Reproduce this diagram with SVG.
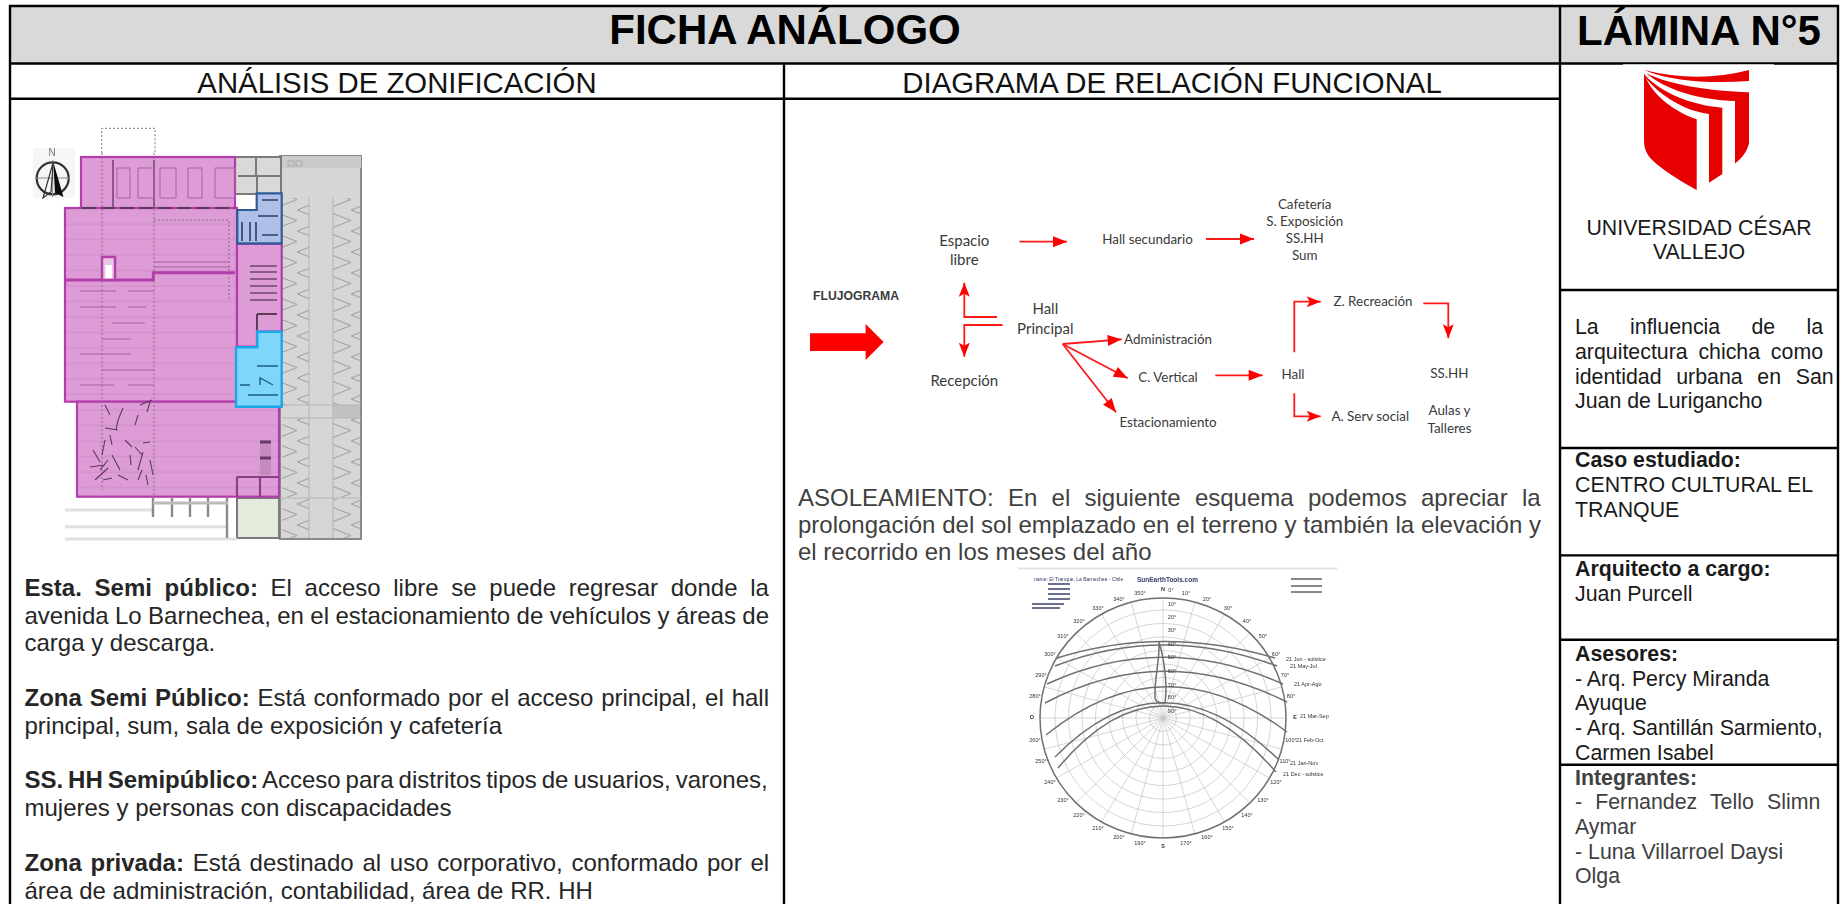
<svg xmlns="http://www.w3.org/2000/svg" width="1840" height="904" viewBox="0 0 1840 904">
<style>
text{font-family:"Liberation Sans",Arial,sans-serif}
.b{font-weight:700}
.body{font-size:24px;fill:#262626}
.gray{font-size:24px;fill:#404040}
.side{font-size:21.33px;fill:#1a1a1a}
.sideg{font-size:21.33px;fill:#404040}
.head{font-size:29.33px;fill:#111;text-anchor:middle}
.rule{stroke:#000;stroke-width:2.4;fill:none}
.fl{font-family:Lato,"Noto Sans",sans-serif;font-size:13.4px;fill:#3a3a3a;text-anchor:middle}
.fb{font-family:Lato,"Noto Sans",sans-serif;font-size:15px;fill:#3a3a3a;text-anchor:middle}
.ar{fill:none;stroke:#ff1a1a;stroke-width:1.8}
.ah{marker-end:url(#head)}
.at{marker-end:url(#thin)}
.z{fill:#dd9cd6;stroke:#b23cab;stroke-width:2.2}
.w{fill:none;stroke:#7a7a7a;stroke-width:2}
.d{fill:none;stroke:#8a6a88;stroke-width:1;stroke-dasharray:2 2}
.t{fill:none;stroke:#a85fa2;stroke-width:1}
.k{fill:none;stroke:#5a3a58;stroke-width:1.1}
.g{fill:none;stroke:#c4c4c4;stroke-width:.7}
.c{fill:none;stroke:#707070;stroke-width:1.5}
.m{font-size:5.5px;fill:#333;text-anchor:middle}
.n{font-size:5.5px;fill:#333}
</style>
<defs>
<marker id="head" markerUnits="userSpaceOnUse" markerWidth="16" markerHeight="12" refX="15" refY="6" orient="auto"><path d="M1,.5L15,6L1,11.5Z" fill="#f00"/></marker>
<marker id="thin" markerUnits="userSpaceOnUse" markerWidth="16" markerHeight="12" refX="15" refY="6" orient="auto"><path d="M1,.5L15,6L1,11.5L4,6Z" fill="#f00"/></marker>
<pattern id="zig" width="27" height="21" patternUnits="userSpaceOnUse"><path d="M0,0L27,10.5L0,21" fill="none" stroke="#a0a0a0" stroke-width="1.1"/></pattern>
<pattern id="stripe" width="10" height="15.5" patternUnits="userSpaceOnUse"><path d="M0,7H10" stroke="#cf8ac8" stroke-width="1"/></pattern>
<filter id="blur" x="-5%" y="-5%" width="110%" height="110%"><feGaussianBlur stdDeviation=".7"/></filter>
<filter id="soft" x="-5%" y="-5%" width="110%" height="110%"><feGaussianBlur stdDeviation=".45"/></filter>
</defs>
<rect width="1840" height="904" fill="#fff"/>

<g id="frame">
<rect x="10" y="6" width="1828" height="57.5" fill="#d9d9d9"/>
<path class="rule" d="M10,904V6H1838V904M10,63.5H1838M10,98.7H1560M784,63.5V904M1560,6V904M1560,290H1838M1560,448H1838M1560,555.4H1838M1560,639.7H1838M1560,764.7H1838"/>
<rect x="1623" y="64.3" width="151" height="2" fill="#fff"/>
</g>

<g id="titulo"><text class="b" x="785" y="43.5" font-size="42" text-anchor="middle">FICHA ANÁLOGO</text></g>
<g id="lamina"><text class="b" x="1699" y="45" font-size="42" text-anchor="middle">LÁMINA N°5</text></g>
<g id="cab-zonificacion"><text class="head" x="397" y="92.7">ANÁLISIS DE ZONIFICACIÓN</text></g>
<g id="cab-relacion"><text class="head" x="1172" y="92.7">DIAGRAMA DE RELACIÓN FUNCIONAL</text></g>

<g id="plano" filter="url(#blur)">
<rect x="33" y="148" width="42" height="50" fill="#f6f6f6"/>
<path class="d" d="M101.7,153V128.3H155V153"/>
<rect x="280" y="156" width="81" height="383" fill="#d6d6d6" stroke="#8a8a8a" stroke-width="2"/>
<rect x="280" y="156" width="81" height="12" fill="#cbcbcb"/>
<rect x="333" y="405" width="27" height="13" fill="#c2c2c2"/>
<rect x="288" y="161" width="6" height="5" fill="none" stroke="#aaa"/><rect x="296" y="161" width="6" height="5" fill="none" stroke="#aaa"/>
<rect x="282" y="198" width="27" height="207" fill="url(#zig)"/>
<rect x="333" y="198" width="27" height="207" fill="url(#zig)"/>
<rect x="282" y="418" width="27" height="79" fill="url(#zig)"/>
<rect x="333" y="418" width="27" height="79" fill="url(#zig)"/>
<rect x="282" y="499" width="27" height="39" fill="url(#zig)"/>
<rect x="333" y="499" width="27" height="39" fill="url(#zig)"/>
<path d="M309,198V538M333,198V538M280,405H361M280,418H361M280,498H361" fill="none" stroke="#b4b4b4" stroke-width="1"/>
<rect x="235" y="157" width="46" height="37" fill="#d9d9d9" stroke="#7a7a7a" stroke-width="2"/>
<path class="w" d="M256,157V176M238,176H280M257,176V200"/>
<rect x="237" y="498" width="42" height="40" fill="#e2ebdc" stroke="#7a7a7a" stroke-width="2"/>
<path d="M65,510H153M65,526.7H228M65,539H237" stroke="#e0e0e0" stroke-width="3" fill="none"/>
<path d="M153,498V517M172,498V517M190,498V517M208,498V517M227,498V538" stroke="#8a8a8a" stroke-width="2.4" fill="none"/>
<path d="M153,503H228" stroke="#bbb" stroke-width="3" fill="none"/>
<rect class="z" x="81" y="157" width="154" height="53"/>
<rect class="z" x="65" y="208" width="172" height="193.7"/>
<rect class="z" x="77" y="401.7" width="202" height="95"/>
<rect x="66" y="209" width="170" height="192" fill="url(#stripe)"/>
<rect x="78" y="403" width="200" height="93" fill="url(#stripe)"/>
<path d="M237,244H281.7V331.7H257V346.7H237Z" class="z"/>
<path d="M256.7,193.3H281.7V243.3H237.3V210H256.7Z" fill="#aebfe8" stroke="#2f5b96" stroke-width="2.2"/>
<path d="M257.3,331.7H281.7V406.7H236V347.3H257.3Z" fill="#7fd6fb" stroke="#1aa7e8" stroke-width="2.4"/>
<path d="M65,280H153.3V272.7H235" fill="none" stroke="#b23cab" stroke-width="3"/>
<rect x="102" y="257" width="13" height="23" fill="#e8c6e4" stroke="#b23cab" stroke-width="2.4"/>
<rect x="105.5" y="265" width="6.5" height="13" fill="#fff"/>
<path d="M82,208H235" stroke="#5a3a58" stroke-width="2" stroke-dasharray="14 5" fill="none"/>
<path d="M113,160V208M154,160V208" stroke="#6a3a68" stroke-width="1.4" fill="none"/>
<path class="t" d="M117,168H130V198H117ZM138,168H154V198H138ZM160,168H176V198H160ZM188,168H202V198H188ZM215,168H235V198H215Z"/>
<path class="d" d="M102,153V490M154,153V497M154,220H229V300"/>
<path class="t" d="M80,291H116M128,291H154M80,307H116M128,307H146M112,323H145M102,339H131M80,354H131M102,370H154M80,385H114M128,385H154M154,262H230M154,267H230"/>
<path d="M250,266H277M250,272H277M250,279H277M250,286H277M250,293H277M250,300H277" stroke="#8a5a88" stroke-width="2" fill="none"/>
<path d="M257,314H277M257,314V330" stroke="#5a3a58" stroke-width="2" fill="none"/>
<path d="M242,222V241M250,222V241M256,222V241M262,235H278M258,216H278M262,200H278" stroke="#2a3f66" stroke-width="1.6" fill="none"/>
<path d="M257,366H278M260,385V378L273,385M240,385H250M248,395L278,395" stroke="#1d5f80" stroke-width="1.4" fill="none"/>
<path class="k" d="M105,405L110,415M123,408L118,420M118,420L116,430M140,405L152,400M150,402L147,412M105,428L118,430M135,425L138,415M105,440L102,455M112,445L110,435M125,440L132,447M143,443L150,442M135,447L142,455M93,450L100,462M90,467L105,465M100,470L108,460M112,455L120,470M130,455L131,465M143,452L138,470M150,460L153,475M95,480L108,468M103,480L112,478M118,475L128,480M138,480L142,470M148,485L146,475"/>
<path d="M237,477H279M237,477V497M260,477V497" stroke="#8d3c88" stroke-width="2.2" fill="none"/>
<rect x="260" y="440" width="11" height="35" fill="#c58ac0"/>
<path d="M260,442H271M260,458H271" stroke="#6a3a68" stroke-width="3" fill="none"/>
<circle cx="52.7" cy="178.3" r="16" fill="none" stroke="#333" stroke-width="2.2"/>
<path d="M35,178H70M52.7,160V197" stroke="#888" stroke-width="1" fill="none"/>
<path d="M53.3,162L63.5,197L55,193Z" fill="#111"/>
<path d="M53.3,162L43,198L51,192Z" fill="none" stroke="#333" stroke-width="1.2"/>
<text x="52" y="156" font-size="10" text-anchor="middle" fill="#777">N</text>
</g>

<g id="texto-zonas">
<text class="body" x="24.5" y="596" word-spacing="6"><tspan class="b">Esta. Semi público:</tspan> El acceso libre se puede regresar donde la</text>
<text class="body" x="24.5" y="623.7" word-spacing="-.26">avenida Lo Barnechea, en el estacionamiento de vehículos y áreas de</text>
<text class="body" x="24.5" y="651">carga y descarga.</text>
<text class="body" x="24.5" y="705.7" word-spacing="1.22"><tspan class="b">Zona Semi Público:</tspan> Está conformado por el acceso principal, el hall</text>
<text class="body" x="24.5" y="734">principal, sum, sala de exposición y cafetería</text>
<text class="body" x="24.5" y="788" word-spacing="-1.75"><tspan class="b">SS. HH Semipúblico:</tspan> Acceso para distritos tipos de usuarios, varones,</text>
<text class="body" x="24.5" y="816">mujeres y personas con discapacidades</text>
<text class="body" x="24.5" y="871" word-spacing="2.1"><tspan class="b">Zona privada:</tspan> Está destinado al uso corporativo, conformado por el</text>
<text class="body" x="24.5" y="899">área de administración, contabilidad, área de RR. HH</text>
</g>

<g id="connectors">
<path class="ar ah" d="M1019.5,241.7H1067"/>
<path class="ar ah" d="M1206,239H1254"/>
<path class="ar at" d="M997,317H964.3V282.7"/>
<path class="ar at" d="M1002.6,325H964.3V356.7"/>
<path class="ar ah" d="M1062.7,344L1121.7,339.3"/>
<path class="ar ah" d="M1062.7,344L1127.7,378.3"/>
<path class="ar ah" d="M1062.7,344L1116,412.3"/>
<path class="ar ah" d="M1215.3,375.3H1262.7"/>
<path class="ar at" d="M1294.3,352.3V301.7H1320.7"/>
<path class="ar at" d="M1423.3,303.3H1448.3V338.3"/>
<path class="ar at" d="M1294.3,393.3V416.3H1320.7"/>
<path id="flecha-flujo" d="M810,333.3H865.6V324L883.6,342L865.6,360V351H810Z" fill="#f00"/>
</g>

<g id="n-flujograma"><text x="813" y="300" font-family="Lato,'Noto Sans',sans-serif" font-weight="700" font-size="12.2" fill="#3a3a3a">FLUJOGRAMA</text></g>
<g id="n-espacio"><text class="fb" x="964.3" y="245.7">Espacio</text><text class="fb" x="964.3" y="265">libre</text></g>
<g id="n-hall-secundario"><text class="fl" x="1147.5" y="244">Hall secundario</text></g>
<g id="n-servicios"><text class="fl" x="1304.7" y="209">Cafetería</text><text class="fl" x="1304.7" y="226">S. Exposición</text><text class="fl" x="1304.7" y="243.3">SS.HH</text><text class="fl" x="1304.7" y="260">Sum</text></g>
<g id="n-hall-principal"><text class="fb" x="1045.3" y="314">Hall</text><text class="fb" x="1045.3" y="333.7">Principal</text></g>
<g id="n-recepcion"><text class="fb" x="964.3" y="385.7">Recepción</text></g>
<g id="n-administracion"><text class="fl" x="1168" y="343.7">Administración</text></g>
<g id="n-vertical"><text class="fl" x="1168" y="382">C. Vertical</text></g>
<g id="n-estacionamiento"><text class="fl" x="1168" y="426.7">Estacionamiento</text></g>
<g id="n-hall"><text class="fl" x="1293" y="378.7">Hall</text></g>
<g id="n-recreacion"><text class="fl" x="1373" y="305.7">Z. Recreación</text></g>
<g id="n-sshh"><text class="fl" x="1449.3" y="378">SS.HH</text></g>
<g id="n-social"><text class="fl" x="1370.3" y="421">A. Serv social</text></g>
<g id="n-aulas"><text class="fl" x="1449.5" y="415">Aulas y</text><text class="fl" x="1449.5" y="432.7">Talleres</text></g>

<g id="texto-asoleamiento">
<text class="gray" x="798" y="506" word-spacing="7.63">ASOLEAMIENTO: En el siguiente esquema podemos apreciar la</text>
<text class="gray" x="798" y="533.3" word-spacing=".12">prolongación del sol emplazado en el terreno y también la elevación y</text>
<text class="gray" x="798" y="560">el recorrido en los meses del año</text>
</g>

<g id="carta-solar" filter="url(#soft)">
<path d="M1018,568.5H1337" stroke="#e2e2e2" stroke-width="2" fill="none"/>
<g class="g">
<circle class="g" cx="1163" cy="718" r="13.5"/><circle class="g" cx="1163" cy="718" r="27"/><circle class="g" cx="1163" cy="718" r="40.5"/><circle class="g" cx="1163" cy="718" r="54"/><circle class="g" cx="1163" cy="718" r="67.5"/><circle class="g" cx="1163" cy="718" r="81"/><circle class="g" cx="1163" cy="718" r="94.5"/><circle class="g" cx="1163" cy="718" r="108"/>
<path class="g" d="M1163,598V838M1194.8,602.1L1131.2,833.9M1224.5,614.1L1101.5,821.9M1250,633.1L1076,802.9M1269.5,658L1056.5,778M1281.8,686.9L1044.2,749.1M1286,718H1040M1281.8,749.1L1044.2,686.9M1269.5,778L1056.5,658M1250,802.9L1076,633.1M1224.5,821.9L1101.5,614.1M1194.8,833.9L1131.2,602.1"/>
</g>
<ellipse class="c" cx="1163" cy="718" rx="123" ry="120" stroke-width="1.8"/>
<path class="c" stroke-width="2" d="M1057,658Q1163,625 1275,658"/>
<path class="c" d="M1055,666Q1163,624 1277,666"/>
<path class="c" d="M1047,684Q1163,630.6 1283,684"/>
<path class="c" d="M1045,703Q1163,640 1287,702"/>
<path class="c" d="M1046,735Q1163,640 1287,732"/>
<path class="c" d="M1055,757Q1163,647 1279,760"/>
<path class="c" stroke-width="2" d="M1058,768Q1163,642 1276,772"/>
<path class="c" d="M1159,642C1160,660 1154,680 1155,697C1155,703 1161,703 1165,703C1167,690 1166,665 1159,642Z" stroke-width="1.2"/>
<text class="m" x="1163" y="591" font-weight="700">N</text><text class="m" x="1171" y="592">0°</text>
<text class="m" x="1186" y="595">10°</text><text class="m" x="1207" y="601">20°</text><text class="m" x="1228" y="610">30°</text><text class="m" x="1247" y="623">40°</text><text class="m" x="1263" y="638">50°</text><text class="m" x="1276" y="656">60°</text><text class="m" x="1285" y="677">70°</text><text class="m" x="1291" y="698">80°</text>
<text class="m" x="1295" y="719" font-weight="700">E</text><text class="m" x="1291" y="742">100°</text><text class="m" x="1285" y="763">110°</text><text class="m" x="1276" y="784">120°</text><text class="m" x="1263" y="802">130°</text><text class="m" x="1247" y="817">140°</text><text class="m" x="1228" y="830">150°</text><text class="m" x="1207" y="839">160°</text><text class="m" x="1186" y="845">170°</text>
<text class="m" x="1163" y="848" font-weight="700">S</text><text class="m" x="1140" y="845">190°</text><text class="m" x="1119" y="839">200°</text><text class="m" x="1098" y="830">210°</text><text class="m" x="1079" y="817">220°</text><text class="m" x="1063" y="802">230°</text><text class="m" x="1050" y="784">240°</text><text class="m" x="1041" y="763">250°</text><text class="m" x="1035" y="742">260°</text>
<text class="m" x="1032" y="719" font-weight="700">O</text><text class="m" x="1035" y="698">280°</text><text class="m" x="1041" y="677">290°</text><text class="m" x="1050" y="656">300°</text><text class="m" x="1063" y="638">310°</text><text class="m" x="1079" y="623">320°</text><text class="m" x="1098" y="610">330°</text><text class="m" x="1119" y="601">340°</text><text class="m" x="1140" y="595">350°</text>
<text class="m" x="1172" y="606">10°</text><text class="m" x="1172" y="619">20°</text><text class="m" x="1172" y="632">30°</text><text class="m" x="1172" y="646">40°</text><text class="m" x="1172" y="659">50°</text><text class="m" x="1172" y="673">60°</text><text class="m" x="1172" y="687">70°</text><text class="m" x="1172" y="699">80°</text><text class="m" x="1172" y="713">90°</text>
<text class="n" x="1286" y="661">21 Jun - solstice</text><text class="n" x="1290" y="668">21 May-Jul</text><text class="n" x="1294" y="686">21 Apr-Ago</text><text class="n" x="1300" y="718">21 Mar-Sep</text><text class="n" x="1296" y="742">21 Feb-Oct</text><text class="n" x="1290" y="765">21 Jan-Nov</text><text class="n" x="1283" y="776">21 Dec - solstice</text>
<text x="1137" y="582" font-size="6.5" font-weight="700" fill="#333a66">SunEarthTools.com</text>
<text x="1034" y="581" font-size="5" fill="#333a66">name: El Tranque, La Barnechea - Chile</text>
<path d="M1050,587H1072M1050,592H1072M1050,597H1072M1050,602H1072M1034,607H1066M1034,611H1062" stroke="#6a7090" stroke-width="2" fill="none" transform="translate(-2,-3)"/>
<path d="M1291,579H1322M1291,586H1322M1291,592H1322" stroke="#888" stroke-width="2" fill="none"/>
</g>

<g id="logo-ucv" fill="#e60000">
<path d="M1644,70C1680,79 1715,79 1749,70V81C1710,84 1670,81 1644,70Z"/>
<path d="M1646,73C1670,85 1710,91 1749,92.3V143C1747,152 1742,158 1735,163.5V101C1700,100 1665,90 1646,73Z"/>
<path d="M1645,75C1660,92 1690,105 1722.3,107.7V174L1709,182.7V114C1685,111 1660,96 1645,77Z"/>
<path d="M1644,73C1650,92 1670,110 1696.7,119.3V190C1675,178 1655,165 1648,155C1645,150 1644,146 1644,140Z"/>
</g>
<g id="universidad"><text class="side" x="1699" y="235" text-anchor="middle">UNIVERSIDAD CÉSAR</text><text class="side" x="1699" y="259" text-anchor="middle">VALLEJO</text></g>
<g id="tema">
<text class="side" x="1575" y="333.7" word-spacing="25.4">La influencia de la</text>
<text class="side" x="1575" y="359" word-spacing="4.87">arquitectura chicha como</text>
<text class="side" x="1575" y="383.5" word-spacing="8.74">identidad urbana en San</text>
<text class="side" x="1575" y="408">Juan de Lurigancho</text>
</g>
<g id="caso"><text class="side b" x="1575" y="467">Caso estudiado:</text><text class="side" x="1575" y="492">CENTRO CULTURAL EL</text><text class="side" x="1575" y="517">TRANQUE</text></g>
<g id="arquitecto"><text class="side b" x="1575" y="575.7">Arquitecto a cargo:</text><text class="side" x="1575" y="600.7">Juan Purcell</text></g>
<g id="asesores"><text class="side b" x="1575" y="661">Asesores:</text><text class="side" x="1575" y="685.5">- Arq. Percy Miranda</text><text class="side" x="1575" y="710">Ayuque</text><text class="side" x="1575" y="735">- Arq. Santillán Sarmiento,</text><text class="side" x="1575" y="759.5">Carmen Isabel</text></g>
<g id="integrantes"><text class="sideg b" x="1575" y="784.6">Integrantes:</text><text class="sideg" x="1575" y="809" word-spacing="7.2">- Fernandez Tello Slimn</text><text class="sideg" x="1575" y="834">Aymar</text><text class="sideg" x="1575" y="858.5">- Luna Villarroel Daysi</text><text class="sideg" x="1575" y="883">Olga</text></g>
</svg>
